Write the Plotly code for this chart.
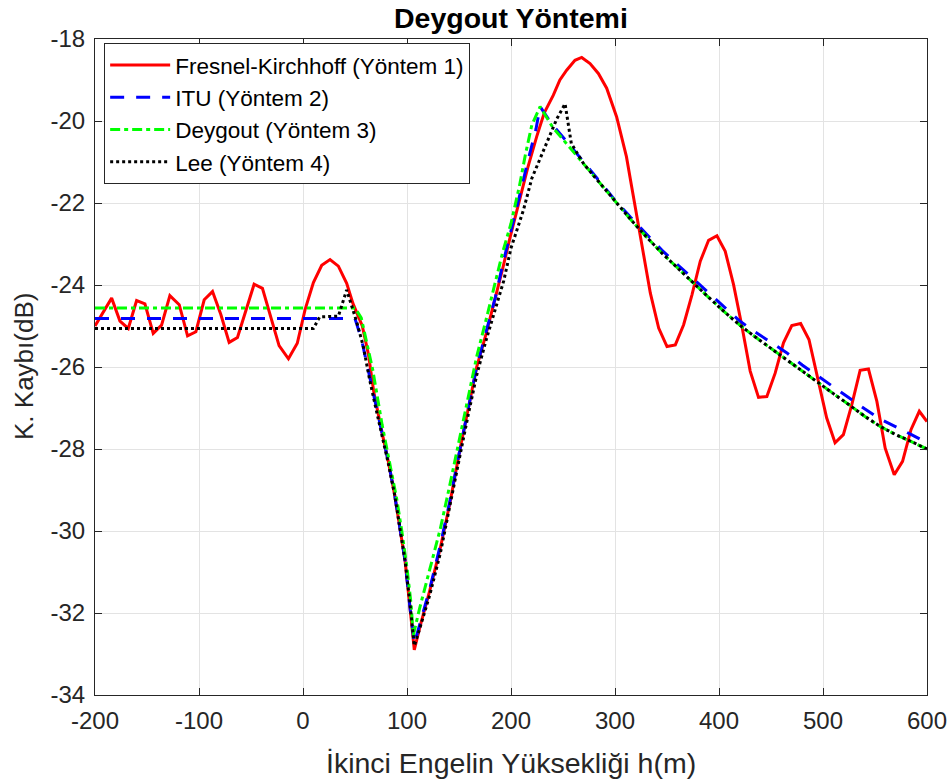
import plotly.graph_objects as go

# ---------------- data ----------------
fk_x = [-200, -184, -176, -168, -160, -152, -144, -136, -128, -119, -111, -103, -95, -87, -79, -71,
        -63, -55, -47, -39, -31, -23, -14, -5.5, 2, 10, 18, 26, 34, 42, 48, 53, 57, 63, 68, 76, 82,
        88, 93, 98, 103, 107, 112.5, 122, 132, 141, 151, 159, 167, 176, 184.6, 192, 199, 208, 216,
        224.7, 232, 240.7, 247, 253.5, 261.5, 268, 276, 284, 292, 301.6, 311, 316, 321, 326, 334,
        342, 350, 358, 366, 374, 382, 390, 398, 406, 414, 422, 430, 438, 446, 454, 462, 470, 478.5,
        486.5, 494.5, 503.5, 511.6, 519.6, 527.7, 535.7, 543.7, 551.8, 559.8, 568.5, 576.5, 584.6,
        592.6, 600]
fk_y = [-25.0, -24.32, -24.88, -25.06, -24.38, -24.46, -25.18, -24.98, -24.26, -24.48, -25.24, -25.14,
        -24.36, -24.16, -24.72, -25.4, -25.28, -24.6, -23.98, -24.08, -24.76, -25.48, -25.8, -25.42,
        -24.6, -23.94, -23.52, -23.38, -23.54, -23.96, -24.45, -24.77, -25.0, -25.7, -26.6, -27.6,
        -28.3, -29.1, -29.9, -30.7, -31.9, -32.9, -32.33, -31.44, -30.42, -29.35, -28.0, -27.0, -26.0,
        -25.2, -24.37, -23.6, -22.85, -21.95, -21.15, -20.38, -19.8, -19.37, -19.0, -18.76, -18.52,
        -18.45, -18.6, -18.84, -19.2, -19.9, -20.87, -21.6, -22.3, -23.1, -24.2, -25.05, -25.5, -25.46,
        -24.97, -24.24, -23.42, -22.91, -22.8, -23.18, -23.99, -25.0, -26.1, -26.74, -26.72, -26.15,
        -25.41, -24.99, -24.94, -25.33, -26.23, -27.24, -27.85, -27.65, -26.92, -26.08, -26.05, -26.84,
        -27.98, -28.63, -28.3, -27.53, -27.08, -27.33]

itu_x = [-200, 50, 56, 63, 70, 76, 82, 88, 93, 98, 103, 107, 112, 122, 132, 141, 151, 159, 167, 176,
         185, 192, 200, 208, 216, 224, 228, 240, 255, 270, 285, 300, 315, 330, 345, 360, 375, 390,
         405, 420, 435, 450, 465, 480, 495, 510, 525, 540, 555, 570, 585, 600]
itu_y = [-24.82, -24.82, -25.3, -26.1, -26.9, -27.6, -28.3, -29.1, -29.9, -30.7, -31.9, -32.75, -32.3,
         -31.4, -30.35, -29.3, -28.0, -27.0, -26.0, -25.15, -24.3, -23.5, -22.7, -21.85, -21.0, -20.2,
         -19.65, -20.1, -20.54, -21.0, -21.45, -21.93, -22.35, -22.75, -23.15, -23.5, -23.85, -24.2,
         -24.55, -24.88, -25.15, -25.4, -25.65, -25.95, -26.22, -26.5, -26.75, -27.02, -27.27, -27.45,
         -27.65, -27.85]

dey_x = [-200, 50, 56, 61, 67, 76, 84, 90, 95, 100, 104, 106, 112, 122, 132, 141, 151, 159, 167, 176,
         185, 192, 200, 208, 214, 220, 228, 240, 255, 270, 285, 300, 315, 330, 345, 360, 375, 390, 405,
         420, 435, 450, 465, 480, 495, 510, 525, 540, 555, 570, 585, 600]
dey_y = [-24.56, -24.56, -24.8, -25.4, -26.06, -27.4, -28.4, -29.2, -30.0, -30.9, -31.8, -32.55, -31.9,
         -30.9, -29.95, -28.9, -27.7, -26.7, -25.75, -24.85, -23.95, -23.2, -22.5, -21.6, -20.8, -20.1,
         -19.65, -20.15, -20.6, -21.05, -21.5, -21.97, -22.4, -22.82, -23.22, -23.58, -23.95, -24.3,
         -24.65, -24.98, -25.27, -25.55, -25.82, -26.1, -26.38, -26.65, -26.92, -27.2, -27.45, -27.65,
         -27.82, -28.0]

lee_x = [-200, 10, 16, 34, 42, 52, 58, 64, 70, 76, 82, 88, 93, 98, 103, 107, 112, 122, 132, 141, 151,
         159, 167, 176, 185, 193, 200, 212, 220, 231, 237.5, 244, 252, 258, 270, 285, 300, 315, 330,
         345, 360, 375, 390, 405, 420, 435, 450, 465, 480, 495, 510, 525, 540, 555, 570, 585, 600]
lee_y = [-25.06, -25.06, -24.78, -24.76, -24.12, -24.93, -25.5, -26.3, -27.0, -27.65, -28.35, -29.1,
         -29.9, -30.7, -31.8, -32.8, -32.4, -31.55, -30.55, -29.45, -28.15, -27.15, -26.2, -25.35, -24.6,
         -23.9, -23.1, -22.17, -21.4, -20.75, -20.38, -19.95, -19.58, -20.55, -21.05, -21.5, -21.97,
         -22.4, -22.82, -23.22, -23.58, -23.95, -24.3, -24.65, -24.98, -25.27, -25.55, -25.82, -26.1,
         -26.38, -26.65, -26.92, -27.2, -27.45, -27.65, -27.82, -28.0]

x_ticks = [-200, -100, 0, 100, 200, 300, 400, 500, 600]
x_labels = ["-200", "-100", "0", "100", "200", "300", "400", "500", "600"]
y_ticks = [-34, -32, -30, -28, -26, -24, -22, -20, -18]
y_labels = ["-34", "-32", "-30", "-28", "-26", "-24", "-22", "-20", "-18"]

names = ["Fresnel-Kirchhoff (Yöntem 1)", "ITU (Yöntem 2)", "Deygout (Yöntem 3)", "Lee (Yöntem 4)"]

FONT = "Liberation Sans, Arial, Helvetica, sans-serif"

fig = go.Figure()
fig.add_trace(go.Scatter(x=fk_x, y=fk_y, mode="lines", name=names[0],
                         line=dict(color="#ff0000", width=3)))
fig.add_trace(go.Scatter(x=itu_x, y=itu_y, mode="lines", name=names[1],
                         line=dict(color="#0000ff", width=3, dash="14px,12px")))
fig.add_trace(go.Scatter(x=dey_x, y=dey_y, mode="lines", name=names[2],
                         line=dict(color="#00ff00", width=3, dash="10px,4px,4px,4px")))
fig.add_trace(go.Scatter(x=lee_x, y=lee_y, mode="lines", name=names[3],
                         line=dict(color="#000000", width=3, dash="3px,3px")))

axis_common = dict(showline=True, linecolor="#262626", linewidth=1, mirror="ticks",
                   ticks="inside", ticklen=7, tickcolor="#262626", tickwidth=1,
                   showgrid=True, gridcolor="#e3e3e3", gridwidth=1, zeroline=False,
                   automargin=False, ticklabelstandoff=4,
                   tickfont=dict(family=FONT, size=24, color="#262626"))

fig.update_xaxes(range=[-200, 600], tickvals=x_ticks, ticktext=x_labels, **axis_common)
fig.update_yaxes(range=[-34, -18], tickvals=y_ticks, ticktext=y_labels, **axis_common)

fig.update_layout(
    width=951, height=784,
    margin=dict(l=95, r=24, t=39, b=89, autoexpand=False),
    paper_bgcolor="white", plot_bgcolor="white",
    font=dict(family=FONT, color="#262626"),
    showlegend=True,
    legend=dict(x=0.011, y=0.994, xanchor="left", yanchor="top",
                bgcolor="white", bordercolor="#262626", borderwidth=1,
                font=dict(family=FONT, size=22.5, color="#000000"),
                itemwidth=60, tracegroupgap=0),
    annotations=[
        dict(text="<b>Deygout Yöntemi</b>", xref="paper", yref="paper", x=0.5, y=1,
             xanchor="center", yanchor="middle", yshift=21, showarrow=False,
             font=dict(family=FONT, size=28.5, color="#000000")),
        dict(text="İkinci Engelin Yüksekliği h(m)", xref="paper", yref="paper", x=0.5, y=0,
             xanchor="center", yanchor="middle", yshift=-68, showarrow=False,
             font=dict(family=FONT, size=28.5, color="#262626")),
        dict(text="K. Kaybı(dB)", xref="paper", yref="paper", x=0, y=0.5,
             xanchor="center", yanchor="middle", xshift=-71, textangle=-90, showarrow=False,
             font=dict(family=FONT, size=26, color="#262626")),
    ],
)

fig.write_html("out.html")
